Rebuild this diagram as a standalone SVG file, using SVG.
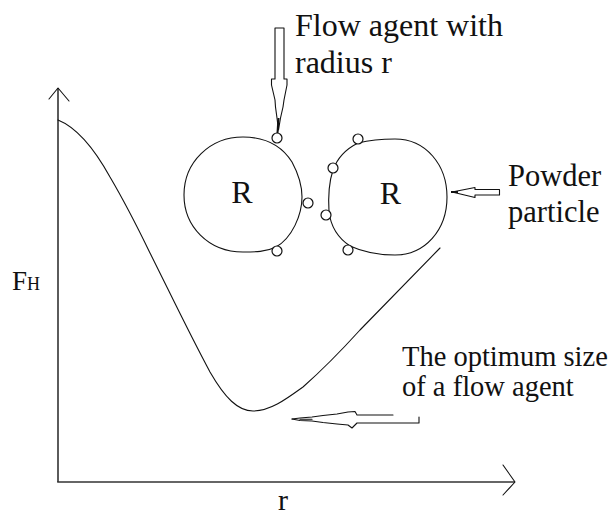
<svg xmlns="http://www.w3.org/2000/svg" width="609" height="518" viewBox="0 0 609 518">
<style>
.ln{fill:none;stroke:#111;stroke-width:1.1;stroke-linejoin:round;stroke-linecap:round}
.ax{fill:none;stroke:#333;stroke-width:1.6}
.sc{fill:#fff;stroke:#111;stroke-width:1.2}
.t{font-family:"Liberation Serif","Times New Roman",serif;fill:#111}
</style>
<rect width="609" height="518" fill="#fff"/>
<g id="axes">
<line class="ax" x1="58" y1="88" x2="58" y2="482"/>
<line class="ax" x1="57.2" y1="482" x2="515" y2="482"/>
<polyline class="ln" points="49,99 58,88 69,101"/>
<polyline class="ln" points="503,465 515,482 503,495"/>
</g>
<g id="curve">
<path class="ln" d="M58 120 C78 128,95 150,110 177 C120 194,135 222,150 253 C170 293,190 335,210 372 C225 398,238 411,253 411 C270 411,285 400,303 387 C320 372,340 352,360 330 L440 248"/>
</g>
<g id="particle-left">
<path class="ln" d="M243 137 C262 137,280 143,292 162 C299 175,302 185,302 197 C302 215,292 238,276 247 C266 252,255 252,243 252 C208 252,184 226,184 195 C184 162,210 137,243 137 Z"/>
<text class="t" x="242" y="203" font-size="32" text-anchor="middle">R</text>
</g>
<g id="particle-right">
<path class="ln" d="M358 143 C370 140,383 139,395 139 C426 139,447 165,447 197 C447 230,425 255,395 255 C380 255,363 252,350 246 C338 238,331 228,329 212 C328 195,329 182,333 170 C337 159,346 149,358 143 Z"/>
<text class="t" x="390.5" y="204" font-size="32" text-anchor="middle">R</text>
</g>
<g id="flow-agents">
<circle class="sc" cx="277" cy="138" r="5"/>
<circle class="sc" cx="308" cy="203" r="5"/>
<circle class="sc" cx="277" cy="251" r="5"/>
<circle class="sc" cx="358" cy="139" r="5"/>
<circle class="sc" cx="333" cy="168" r="5"/>
<circle class="sc" cx="326" cy="215" r="5"/>
<circle class="sc" cx="348" cy="250" r="5"/>
</g>
<g id="connectors">
<path class="ln" d="M275 28 L284 28 L284 79 L287 79 L287 85 L284 100 L283 107 L280.5 118 L278.5 130 L277 118 L275.5 107 L275 100 L271.5 85 L271.5 79 L275 79 Z"/>
<line x1="278.5" y1="118" x2="277.5" y2="133" stroke="#111" stroke-width="2"/>
<path class="ln" d="M452 192 L475 187.5 L475 189.5 L499.5 189.5 L499.5 195 L475 195 L475 197.5 Z"/>
<line x1="451" y1="192" x2="458" y2="192" stroke="#111" stroke-width="2"/>
<path class="ln" d="M292 419 L300 418 L312 417 L323 415.5 L337 414 L348 412 L355 411.5 L357 415 L393 415"/>
<path class="ln" d="M292 419 L300 420.5 L312 421 L323 422.5 L337 424 L348 425 L352 428 L357 423 L419 423 L419 417"/>
<line class="ln" x1="300" y1="419.3" x2="312" y2="419.3"/>
</g>
<g id="labels">
<text class="t" x="295" y="36" font-size="32">Flow agent with</text>
<text class="t" x="295" y="73" font-size="32">radius r</text>
<text class="t" x="508" y="186" font-size="30.5">Powder</text>
<text class="t" x="508" y="222" font-size="30.5">particle</text>
<text class="t" x="402" y="366" font-size="28.5">The optimum size</text>
<text class="t" x="402" y="396" font-size="28.5">of a flow agent</text>
<text class="t" x="12" y="290" font-size="27">F<tspan font-size="18">H</tspan></text>
<text class="t" x="278" y="510" font-size="30">r</text>
</g>
</svg>
